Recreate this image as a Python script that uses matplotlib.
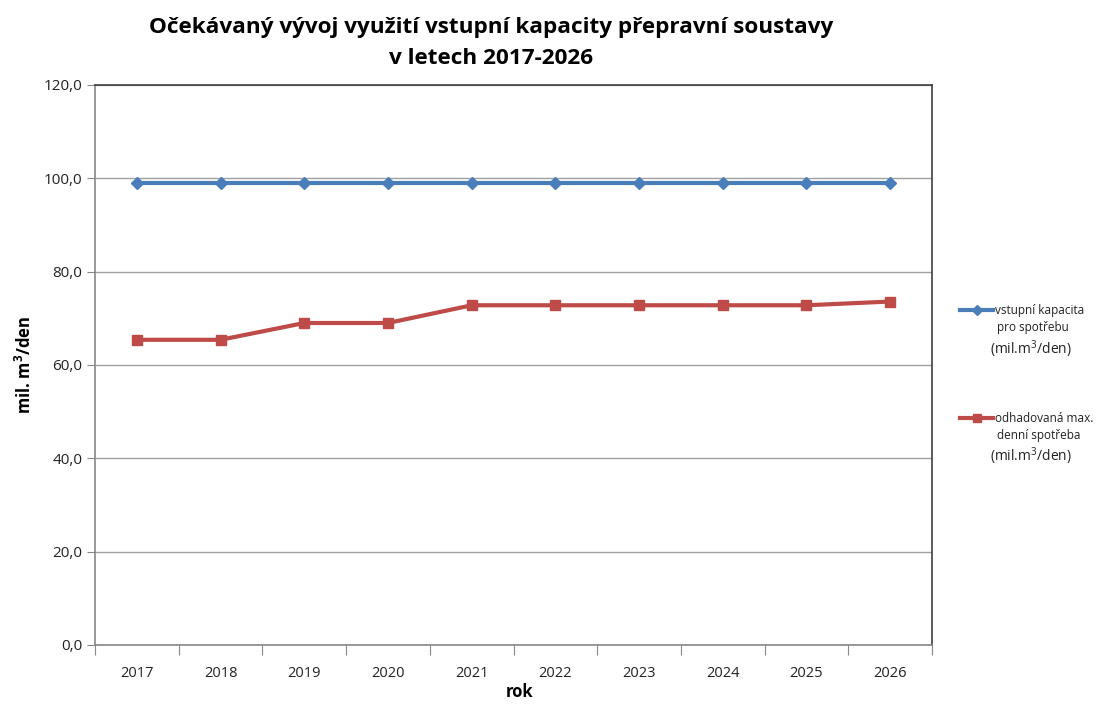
import matplotlib
matplotlib.use("Agg")
import matplotlib.pyplot as plt
from matplotlib.lines import Line2D
import numpy as np

years = ["2017", "2018", "2019", "2020", "2021", "2022", "2023", "2024", "2025", "2026"]
kapacita = [99.0, 99.0, 99.0, 99.0, 99.0, 99.0, 99.0, 99.0, 99.0, 99.0]
spotreba = [65.4, 65.4, 69.0, 69.0, 72.8, 72.8, 72.8, 72.8, 72.8, 73.6]
y_ticks = [0, 20, 40, 60, 80, 100, 120]
y_labels = ["0,0", "20,0", "40,0", "60,0", "80,0", "100,0", "120,0"]

plt.rcParams['font.family'] = ['Open Sans', 'DejaVu Sans']
BLUE = "#4A7EBB"
RED = "#BE4B48"

fig = plt.figure(figsize=(10.97, 7.04), dpi=100)
ax = fig.add_axes([95/1097, 1-645/704, (932-95)/1097, (645-85)/704])

x = np.arange(len(years))
ax.plot(x, kapacita, color=BLUE, lw=3, marker="D", ms=6.5, mec=BLUE, mfc=BLUE, zorder=3)
ax.plot(x, spotreba, color=RED, lw=3, marker="s", ms=7.5, mec=RED, mfc=RED, zorder=3)

ax.set_xlim(-0.5, len(years) - 0.5)
ax.set_ylim(0, 120)
ax.set_yticks(y_ticks)
ax.set_yticklabels(y_labels, fontsize=11, color="#222222")
ax.set_xticks(np.arange(len(years) + 1) - 0.5)
ax.set_xticklabels([])
ax.set_xticks(x, minor=True)
ax.set_xticklabels(years, minor=True, fontsize=10.5, color="#222222")
ax.tick_params(axis="x", which="minor", length=0, pad=15)
ax.tick_params(axis="x", which="major", length=7, color="#888888", direction="out")
ax.tick_params(axis="y", length=6, color="#888888", direction="out", pad=3)

ax.grid(axis="y", color="#A0A0A0", lw=1)
ax.set_axisbelow(True)
for s in ["left", "bottom"]:
    ax.spines[s].set_color("#888888")
    ax.spines[s].set_linewidth(1.2)
for s in ["top", "right"]:
    ax.spines[s].set_color("#404040")
    ax.spines[s].set_linewidth(1.2)

ax.set_ylabel("mil. m$^\\mathregular{3}$/den", fontsize=12, fontweight="bold", labelpad=6)
fig.text(520/1097, 1-692/704, "rok", ha="center", va="center", fontsize=12, fontweight="bold")

fig.text(491/1097, 1-27/704, "Očekávaný vývoj využití vstupní kapacity přepravní soustavy",
         ha="center", va="center", fontsize=16.2, fontweight="bold")
fig.text(491/1097, 1-58/704, "v letech 2017-2026",
         ha="center", va="center", fontsize=16.2, fontweight="bold")

def legend_entry(y, color, marker, ms, l1, l2, y3):
    yy = 1 - y/704
    fig.add_artist(Line2D([960/1097, 993/1097], [yy, yy], color=color, lw=3,
                          transform=fig.transFigure))
    fig.add_artist(Line2D([977/1097], [yy], color=color, marker=marker, ms=ms,
                          transform=fig.transFigure))
    fig.text(995/1097, yy, l1, fontsize=8.5, va="center", ha="left", color="#222222")
    fig.text(997/1097, 1-(y+17)/704, l2, fontsize=8.5, va="center", ha="left", color="#222222")
    fig.text(990/1097, 1-y3/704, "(mil.m$^\\mathregular{3}$/den)", fontsize=10, va="center", ha="left", color="#222222")

legend_entry(310, BLUE, "D", 5, "vstupní kapacita", "pro spotřebu", 349)
legend_entry(418, RED, "s", 6, "odhadovaná max.", "denní spotřeba", 456)

fig.savefig("out.png", dpi=100)
